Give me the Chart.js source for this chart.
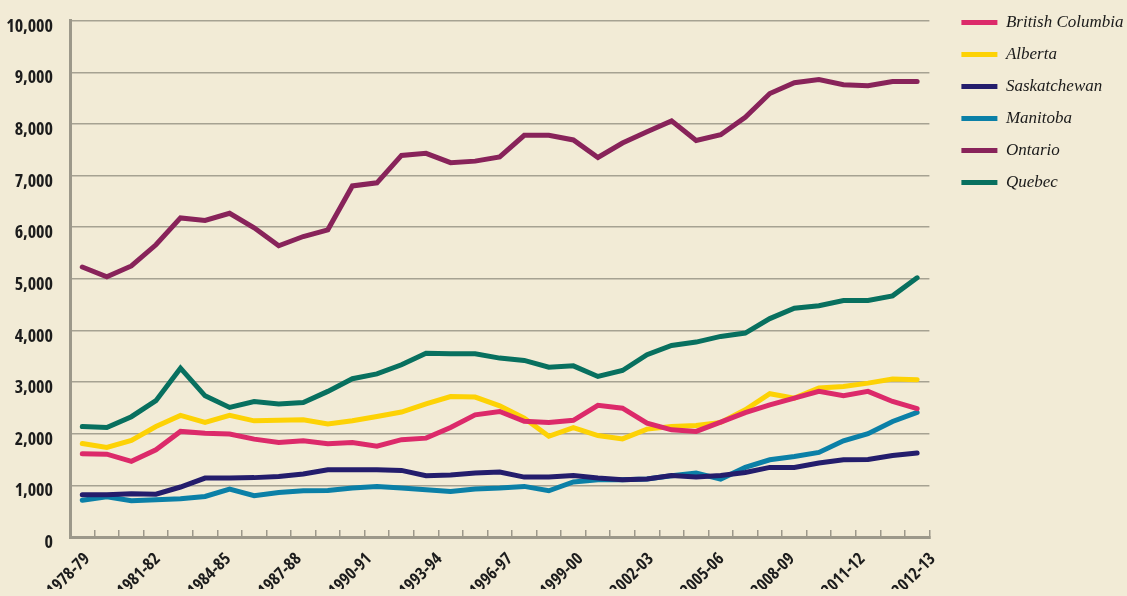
<!DOCTYPE html>
<html><head><meta charset="utf-8">
<script src="https://cdn.jsdelivr.net/npm/chart.js@4/dist/chart.umd.min.js"></script>
<style>
html,body{margin:0;padding:0;background:#f2ebd6;}
#wrap{width:1127px;height:596px;position:relative;}
</style></head><body>
<div id="wrap"><canvas id="c"></canvas></div>
<script>
const categories = ['1978-79','1979-80','1980-81','1981-82','1982-83','1983-84','1984-85','1985-86','1986-87','1987-88','1988-89','1989-90','1990-91','1991-92','1992-93','1993-94','1994-95','1995-96','1996-97','1997-98','1998-99','1999-00','2000-01','2001-02','2002-03','2003-04','2004-05','2005-06','2006-07','2007-08','2008-09','2009-10','2010-11','2011-12','2012-13'];
const xTickLabels = ['1978-79','1981-82','1984-85','1987-88','1990-91','1993-94','1996-97','1999-00','2002-03','2005-06','2008-09','2011-12','2012-13'];
const britishColumbia = [1610,1605,1465,1690,2045,2010,1995,1895,1830,1865,1805,1830,1760,1885,1915,2120,2365,2430,2240,2220,2260,2550,2495,2205,2075,2045,2225,2410,2560,2690,2820,2735,2820,2625,2485];
const alberta = [1810,1735,1870,2140,2355,2220,2355,2250,2260,2270,2190,2250,2335,2420,2580,2720,2710,2540,2300,1950,2120,1965,1900,2090,2140,2160,2220,2465,2775,2690,2885,2915,2980,3060,3045];
const saskatchewan = [820,820,838,830,968,1142,1142,1150,1173,1220,1303,1303,1303,1290,1187,1200,1240,1258,1160,1160,1193,1142,1110,1122,1193,1160,1193,1250,1348,1348,1432,1496,1500,1580,1625];
const manitoba = [710,780,703,722,741,786,929,800,863,896,902,948,980,948,916,883,929,948,980,896,1065,1110,1110,1122,1187,1240,1122,1348,1496,1560,1638,1864,2000,2238,2412];
const ontario = [5230,5040,5250,5660,6180,6130,6270,5990,5640,5820,5950,6800,6860,7390,7430,7250,7280,7360,7780,7780,7690,7350,7630,7850,8060,7680,7790,8130,8590,8800,8860,8760,8740,8820,8820];
const quebec = [2140,2120,2330,2640,3270,2735,2510,2625,2575,2605,2820,3065,3160,3335,3560,3550,3550,3465,3420,3290,3315,3110,3225,3530,3710,3775,3885,3950,4230,4430,4480,4580,4580,4670,5020];
const seriesNames = ['British Columbia','Alberta','Saskatchewan','Manitoba','Ontario','Quebec'];
const seriesColors = ['#dc2a6a','#fdd205','#241d6c','#0b80a7','#88235a','#08705f'];
const seriesData = [britishColumbia, alberta, saskatchewan, manitoba, ontario, quebec];

const gridGray = '#a6a292';
const axisGray = '#9c988a';
const narrow = "'Open Sans'";
// the labels of the reference are spread evenly, slightly wider than the data span
const xLabelStart = 0.2;
const xLabelStep = 2.87;

const datasets = seriesNames.map((name, i) => ({
  label: name,
  data: seriesData[i],
  borderColor: seriesColors[i],
  backgroundColor: seriesColors[i],
  borderWidth: 5,
  pointRadius: 0,
  pointHoverRadius: 0,
  fill: false,
  tension: 0,
  borderCapStyle: 'round',
  borderJoinStyle: 'miter',
  pointStyle: 'line'
}));

new Chart(document.getElementById('c'), {
  type: 'line',
  data: { labels: categories, datasets },
  options: {
    responsive: true,
    maintainAspectRatio: false,
    animation: false,
    layout: { padding: { left: 0, top: -1, right: -6.5, bottom: 0 } },
    plugins: {
      legend: {
        position: 'right',
        align: 'start',
        labels: {
          usePointStyle: true,
          pointStyleWidth: 36,
          padding: 15,
          color: '#1a1a1a',
          font: { family: "'Liberation Serif', serif", style: 'italic', size: 17 }
        }
      },
      tooltip: { enabled: false }
    },
    scales: {
      x: {
        type: 'category',
        offset: true,
        ticks: { display: false },
        grid: { display: true, offset: true, drawOnChartArea: false, drawTicks: true, tickLength: -7, color: axisGray, lineWidth: 1.5 },
        border: { display: true, color: axisGray, width: 3 }
      },
      x2: {
        type: 'linear',
        axis: 'x',
        position: 'bottom',
        min: -0.5,
        max: categories.length - 0.5,
        grid: { display: false },
        border: { display: false },
        afterBuildTicks: (s) => {
          s.ticks = xTickLabels.map((t, k) => ({ value: xLabelStart + k * xLabelStep }));
        },
        afterFit: (s) => { s.height = 59; },
        ticks: {
          autoSkip: false,
          minRotation: 45,
          maxRotation: 45,
          padding: 11,
          color: '#1c1c1c',
          font: { family: narrow, weight: 'bold condensed', size: 17 },
          callback: (v, i) => xTickLabels[i]
        }
      },
      y: {
        min: 0,
        max: 10000,
        afterFit: (s) => { s.width = 70; },
        ticks: {
          stepSize: 1000,
          padding: 17,
          labelOffset: 6,
          color: '#1c1c1c',
          font: { family: narrow, weight: 'bold condensed', size: 18, lineHeight: 0.41 },
          callback: (v) => v.toLocaleString('en-US')
        },
        grid: { color: gridGray, lineWidth: 1.5, drawTicks: false },
        border: { display: true, color: axisGray, width: 3 }
      },
      y2: {
        axis: 'y',
        position: 'right',
        min: 0,
        max: 1,
        ticks: { display: false },
        grid: { display: false },
        border: { display: false },
        afterFit: (s) => { s.width = 17; }
      }
    }
  }
});
</script>
</body></html>
